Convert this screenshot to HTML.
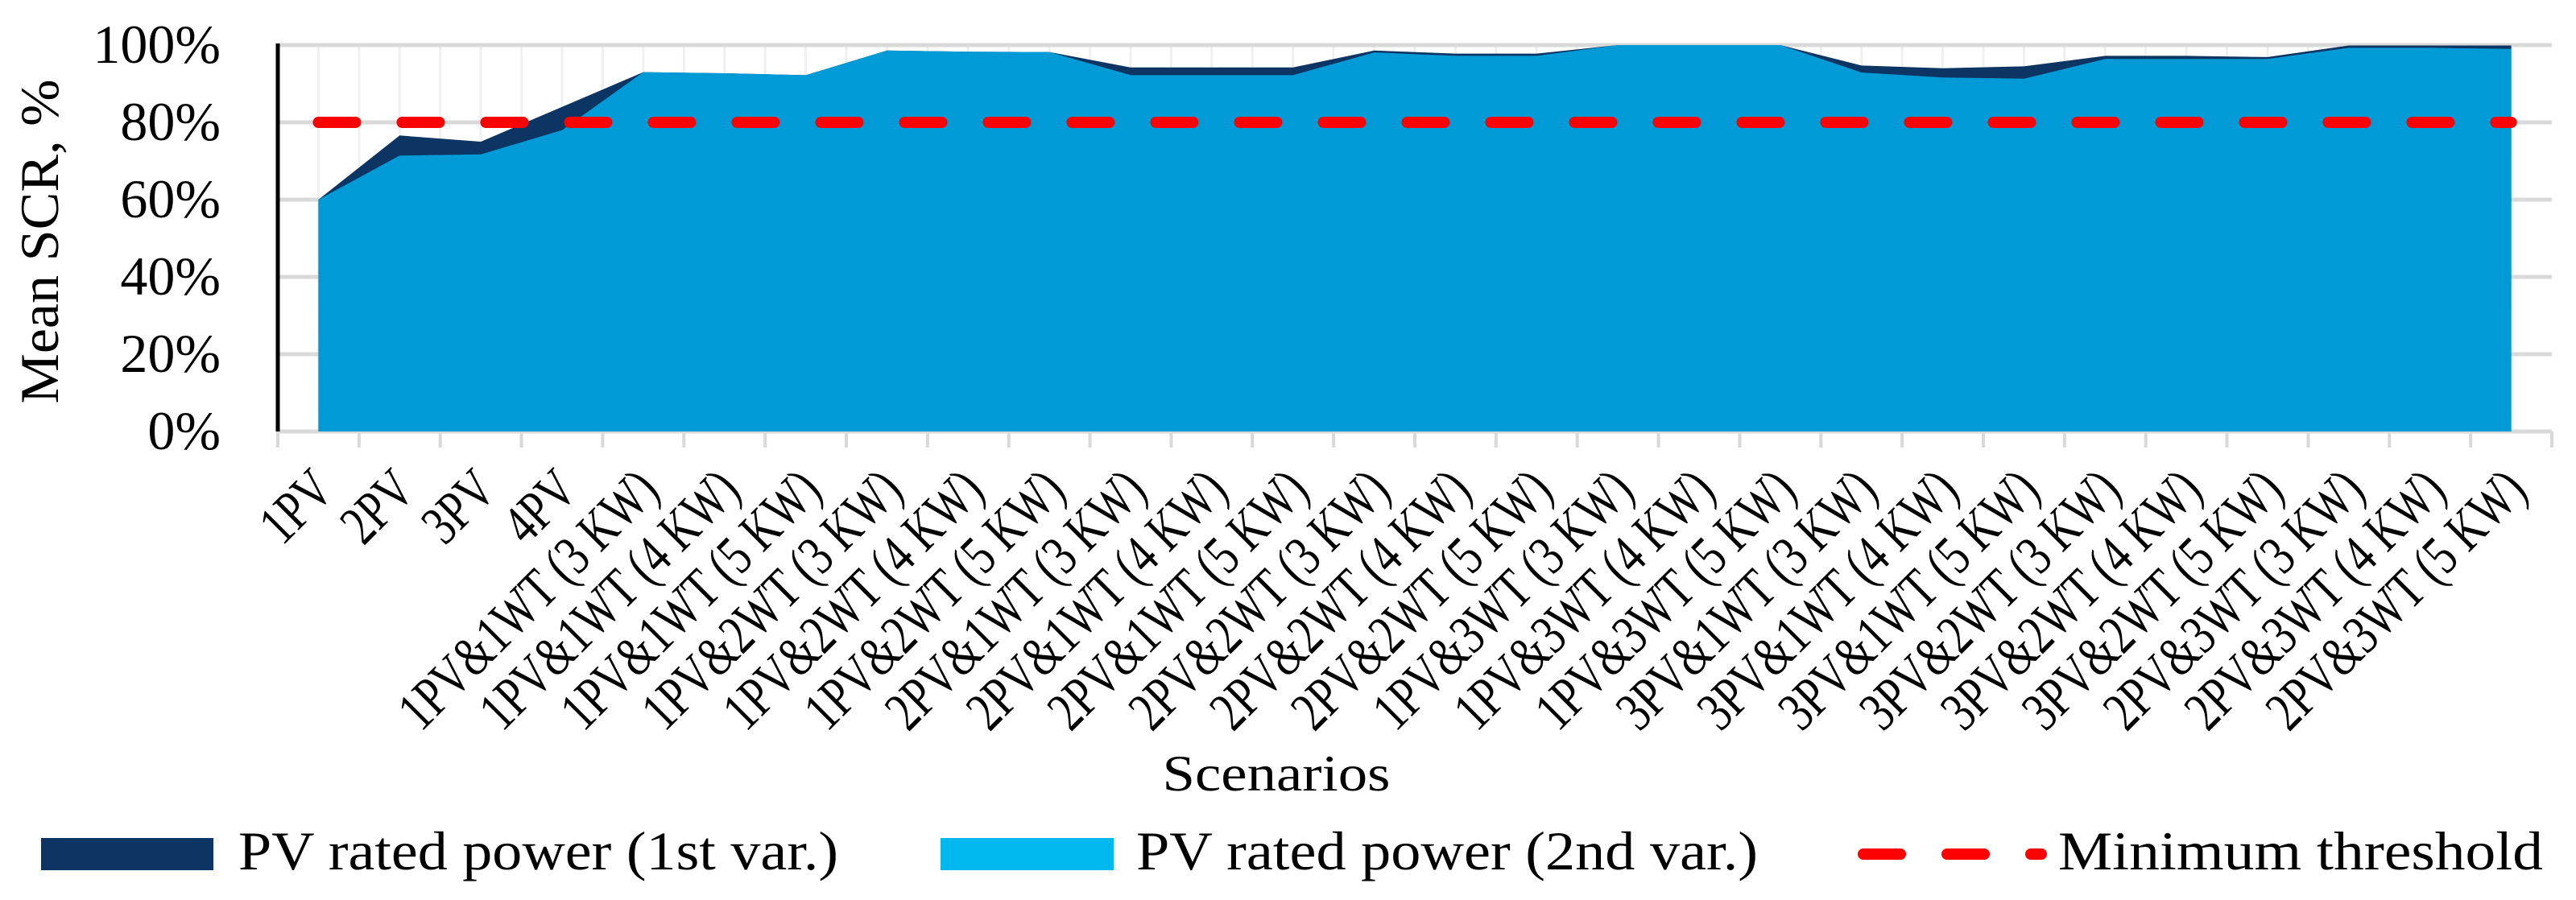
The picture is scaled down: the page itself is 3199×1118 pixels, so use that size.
<!DOCTYPE html>
<html><head><meta charset="utf-8"><style>
html,body{margin:0;padding:0;background:#fff;}
svg{display:block;}
text{font-family:"Liberation Serif",serif;fill:#000;}
</style></head><body>
<svg id="chart" width="3199" height="1118" viewBox="0 0 3199 1118" xmlns="http://www.w3.org/2000/svg">
<g id="grid"></g>
<g id="areas"></g>
<g id="axes"></g>
<text transform="translate(72,300) rotate(-90)" text-anchor="middle" font-size="68" textLength="403" lengthAdjust="spacingAndGlyphs">Mean SCR, %</text>
<text x="1585" y="982" text-anchor="middle" font-size="64" textLength="283" lengthAdjust="spacingAndGlyphs">Scenarios</text>
<g>
  <g>
    <rect x="51" y="1041" width="214" height="40" fill="#0d3563"/>
    <text x="296" y="1080" font-size="68" textLength="745" lengthAdjust="spacingAndGlyphs">PV rated power (1st var.)</text>
  </g>
  <g>
    <rect x="1168" y="1041" width="215" height="40" fill="#00b7ee"/>
    <text x="1411" y="1080" font-size="68" textLength="772" lengthAdjust="spacingAndGlyphs">PV rated power (2nd var.)</text>
  </g>
  <g>
    <line x1="2314" y1="1061" x2="2535" y2="1061" stroke="#f00" stroke-width="14" stroke-linecap="round" stroke-dasharray="46 58"/>
    <text x="2556" y="1080" font-size="68" textLength="602" lengthAdjust="spacingAndGlyphs">Minimum threshold</text>
  </g>
</g>
</svg>
<script>
const categories = ["1PV","2PV","3PV","4PV",
 "1PV&1WT (3 KW)","1PV&1WT (4 KW)","1PV&1WT (5 KW)",
 "1PV&2WT (3 KW)","1PV&2WT (4 KW)","1PV&2WT (5 KW)",
 "2PV&1WT (3 KW)","2PV&1WT (4 KW)","2PV&1WT (5 KW)",
 "2PV&2WT (3 KW)","2PV&2WT (4 KW)","2PV&2WT (5 KW)",
 "1PV&3WT (3 KW)","1PV&3WT (4 KW)","1PV&3WT (5 KW)",
 "3PV&1WT (3 KW)","3PV&1WT (4 KW)","3PV&1WT (5 KW)",
 "3PV&2WT (3 KW)","3PV&2WT (4 KW)","3PV&2WT (5 KW)",
 "2PV&3WT (3 KW)","2PV&3WT (4 KW)","2PV&3WT (5 KW)"];
const firstVar = [60,76.6,75,84,93,92.7,92.2,98.6,98.3,98.2,94.2,94.2,94.2,98.6,97.8,97.8,100,100,100,94.7,94,94.5,97.2,97.2,96.9,99.9,99.9,99.9];
const secondVar = [60,71.4,71.7,78,93,92.7,92.2,98.6,98.3,98.2,92.2,92.2,92.2,98.1,97.2,97.2,100,100,100,92.9,91.6,91.3,96.4,96.4,96.4,99.3,99.3,99];
const threshold = [80];
const yTicks = [0,20,40,60,80,100];

const NS="http://www.w3.org/2000/svg";
const L=345,R=3169,T=56,B=536;
const w=(R-L)/categories.length;
const xPos=i=>L+w*(i+0.5);
const yPos=v=>B-(v/100)*(B-T);
function mk(tag,attrs,parent){const e=document.createElementNS(NS,tag);for(const k in attrs)e.setAttribute(k,attrs[k]);parent.appendChild(e);return e;}
const grid=document.getElementById('grid'),areas=document.getElementById('areas'),axes=document.getElementById('axes');

for(let x=L+w/2;x<R;x+=w/2){
  const g=mk('line',{x1:x,y1:T,x2:x,y2:B,stroke:'#f0f0f0','stroke-width':3},grid);
  
  
}
yTicks.forEach(t=>{
  const y=yPos(t);
  const g=mk('line',{x1:L,y1:y,x2:R,y2:y,stroke:'#d9d9d9','stroke-width':5},grid);
  
  
  const tx=mk('text',{x:274,y:y+22,'text-anchor':'end','font-size':68},axes);
  tx.textContent=t+'%';
  
  
});

function areaPath(vals){
  let d='M'+xPos(0)+','+B;
  vals.forEach((v,i)=>{d+=' L'+xPos(i).toFixed(1)+','+yPos(v).toFixed(1);});
  d+=' L'+xPos(vals.length-1)+','+B+' Z';
  return d;
}
const a1=mk('path',{d:areaPath(firstVar),fill:'#0d3563'},areas);


const a2=mk('path',{d:areaPath(secondVar),fill:'#009bd6'},areas);



const th=mk('line',{x1:xPos(0),y1:yPos(threshold[0]),x2:xPos(categories.length-1),y2:yPos(threshold[0]),stroke:'#ff0000','stroke-width':14,'stroke-linecap':'round','stroke-dasharray':'46 58'},areas);



const ya=mk('line',{x1:L,y1:T-2,x2:L,y2:B,stroke:'#000','stroke-width':5},axes);


for(let i=0;i<=categories.length;i++){
  const x=L+w*i;
  const tk=mk('line',{x1:x,y1:B,x2:x,y2:556,stroke:'#d9d9d9','stroke-width':4},axes);
  
  
}
categories.forEach((c,i)=>{
  const x=xPos(i)+22,y=612;
  const tx=mk('text',{x:x,y:y,'text-anchor':'end','font-size':70,transform:'rotate(-45 '+x+' '+y+')'},axes);
  tx.textContent=c;
  
  
  const len=tx.getComputedTextLength();
  if(len>0){tx.setAttribute('textLength',(len*0.76).toFixed(1));tx.setAttribute('lengthAdjust','spacingAndGlyphs');}
});
</script>
</body></html>
